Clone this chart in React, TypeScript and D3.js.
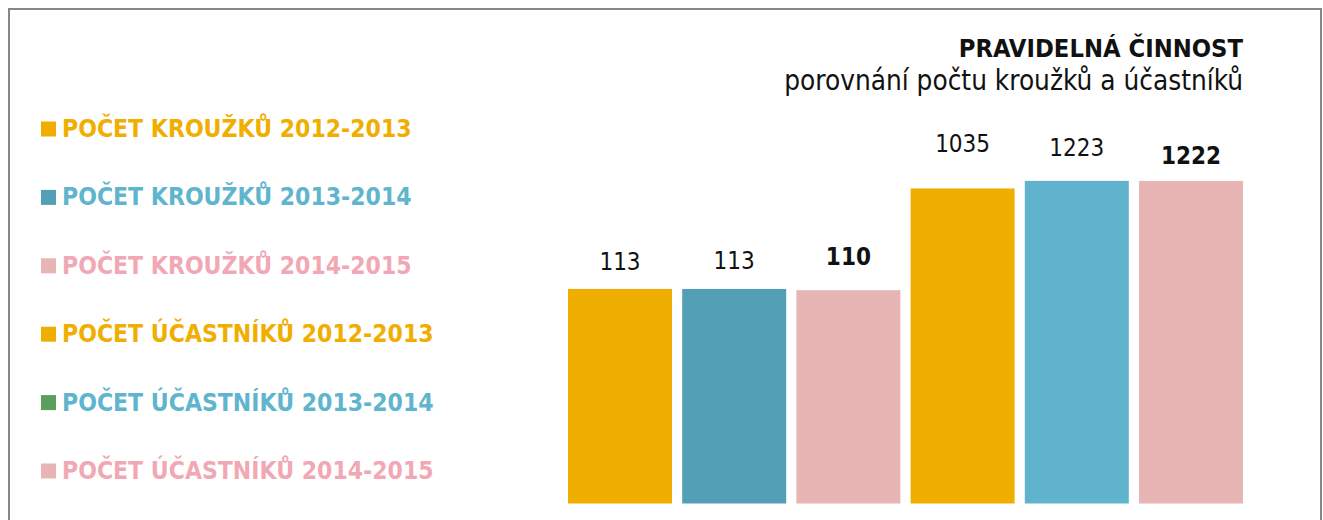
import React from "react";
import * as d3 from "d3";

const categories = [
  "POČET KROUŽKŮ 2012-2013",
  "POČET KROUŽKŮ 2013-2014",
  "POČET KROUŽKŮ 2014-2015",
  "POČET ÚČASTNÍKŮ 2012-2013",
  "POČET ÚČASTNÍKŮ 2013-2014",
  "POČET ÚČASTNÍKŮ 2014-2015",
];
const values = [113, 113, 110, 1035, 1223, 1222];
const boldLabel = [false, false, true, false, false, true];
const barColors = ["#F0AE00", "#539FB5", "#E7B5B4", "#F0AE00", "#60B3CC", "#E7B5B4"];
const swatchColors = ["#F0AE00", "#539FB5", "#E7B5B4", "#F0AE00", "#5B9F5E", "#E7B5B4"];
const legendTextColors = ["#F0AE00", "#5FB5CE", "#F2A8B4", "#F0AE00", "#5FB5CE", "#F2A8B4"];
const labelOffsets = [19, 20, 25, 36, 25, 17];
const title = "PRAVIDELNÁ ČINNOST";
const subtitle = "porovnání počtu kroužků a účastníků";

const W = 1323;
const H = 520;
const FONT = "'DejaVu Sans', sans-serif";

export default function App() {
  const x = d3
    .scaleBand<number>()
    .domain(d3.range(values.length))
    .range([568, 1243])
    .paddingInner(0.0893)
    .paddingOuter(0);
  const y = d3.scaleLog().domain([1, 1000]).range([503.5, 190]);
  const legendY = d3.scaleLinear().domain([0, 5]).range([137, 479]);

  return (
    <svg
      width={W}
      height={H}
      style={{ position: "absolute", left: 0, top: 0, display: "block", background: "#fff" }}
    >
      <rect x={9} y={9} width={1312} height={600} fill="none" stroke="#878787" strokeWidth={2} />
      <text
        x={1243}
        y={57}
        textAnchor="end"
        fontFamily={FONT}
        fontStretch="condensed"
        fontWeight="bold"
        fontSize={25.3}
        fill="#111"
      >
        {title}
      </text>
      <text
        x={1243}
        y={90}
        textAnchor="end"
        fontFamily={FONT}
        fontStretch="condensed"
        fontSize={27.7}
        fill="#111"
      >
        {subtitle}
      </text>
      {categories.map((c, i) => (
        <g key={c}>
          <rect x={41} y={legendY(i) - 15.5} width={15} height={15} fill={swatchColors[i]} />
          <text
            x={62}
            y={legendY(i)}
            fontFamily={FONT}
            fontStretch="condensed"
            fontWeight="bold"
            fontSize={24.5}
            fill={legendTextColors[i]}
          >
            {c}
          </text>
        </g>
      ))}
      {values.map((v, i) => (
        <g key={i}>
          <rect
            x={x(i)}
            y={y(v)}
            width={x.bandwidth()}
            height={y(1) - y(v)}
            fill={barColors[i]}
          />
          <text
            x={(x(i) as number) + x.bandwidth() / 2}
            y={y(v) - labelOffsets[i]}
            textAnchor="middle"
            fontFamily={FONT}
            fontStretch="condensed"
            fontWeight={boldLabel[i] ? "bold" : "normal"}
            fontSize={24}
            fill="#111"
          >
            {v}
          </text>
        </g>
      ))}
    </svg>
  );
}
